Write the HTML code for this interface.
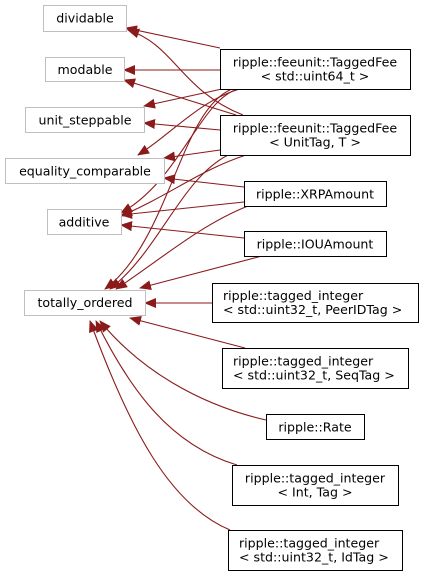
<!DOCTYPE html>
<html><head><style>
html,body{margin:0;padding:0;background:#fff;}
svg{display:block;font-family:"DejaVu Sans","Liberation Sans",sans-serif;font-size:12.6px;}
</style></head><body>
<svg width="424" height="577" viewBox="0 0 424 577" xmlns="http://www.w3.org/2000/svg">
<defs><marker id="a" markerWidth="12" markerHeight="10" refX="11" refY="5" orient="auto" markerUnits="userSpaceOnUse"><path d="M0,0 L12,5 L0,10 Z" fill="#8b1a1a"/></marker></defs>
<g fill="none" stroke="#8b1a1a" stroke-width="1.1" marker-end="url(#a)">
<path d="M220,48 L126,28"/>
<path d="M243,115 C180,90 175,45 128,30"/>
<path d="M220,70 L124,70"/>
<path d="M236,115 L124,80"/>
<path d="M222,89 L144,106"/>
<path d="M220,130 L144,123"/>
<path d="M240,89 C200,100 170,135 138,155"/>
<path d="M220,150 L164,158"/>
<path d="M244,187 L164,178"/>
<path d="M238,89 C200,100 180,180 121,213"/>
<path d="M246,155 C200,170 170,195 121,216"/>
<path d="M244,202 L121,215"/>
<path d="M244,238 L121,225"/>
<path d="M232,89 C180,110 170,240 105,289"/>
<path d="M228,155 C180,180 160,250 110,289"/>
<path d="M248,206 C200,225 160,260 116,289"/>
<path d="M262,256 L140,288"/>
<path d="M212,303 L145,303"/>
<path d="M245,348 L130,318"/>
<path d="M266,420 C200,405 140,370 100,321"/>
<path d="M237,465 C170,445 130,390 96,321"/>
<path d="M230,530 C170,505 130,430 90,321"/>
</g>
<g fill="#fff" stroke="#bfbfbf">
<rect x="43.5" y="5.5" width="83" height="26"/>
<rect x="45.5" y="57.5" width="79" height="24"/>
<rect x="25.5" y="107.5" width="119" height="25"/>
<rect x="5.5" y="158.5" width="159" height="25"/>
<rect x="47.5" y="209.5" width="74" height="25"/>
<rect x="24.5" y="290.5" width="121" height="25"/>
</g>
<g fill="#fff" stroke="#000">
<rect x="220.5" y="49.5" width="190" height="40"/>
<rect x="220.5" y="115.5" width="190" height="40"/>
<rect x="244.5" y="181.5" width="142" height="25"/>
<rect x="244.5" y="231.5" width="142" height="25"/>
<rect x="212.5" y="283.5" width="206" height="39"/>
<rect x="222.5" y="348.5" width="186" height="40"/>
<rect x="266.5" y="414.5" width="98" height="25"/>
<rect x="232.5" y="465.5" width="166" height="40"/>
<rect x="228.5" y="530.5" width="174" height="40"/>
</g>
<g fill="#000" text-anchor="middle">
<text x="85" y="22.5">dividable</text>
<text x="85" y="74">modable</text>
<text x="85" y="124.5">unit_steppable</text>
<text x="85" y="175.5">equality_comparable</text>
<text x="84" y="226.5">additive</text>
<text x="85" y="307">totally_ordered</text>
<text x="315" y="66.5">ripple::feeunit::TaggedFee</text>
<text x="315" y="80.5">&lt; std::uint64_t &gt;</text>
<text x="315" y="132.5">ripple::feeunit::TaggedFee</text>
<text x="315" y="146.5">&lt; UnitTag, T &gt;</text>
<text x="315" y="198.5">ripple::XRPAmount</text>
<text x="315" y="248.5">ripple::IOUAmount</text>
</g>
<g fill="#000">
<text x="223" y="300">ripple::tagged_integer</text>
<text x="223" y="314">&lt; std::uint32_t, PeerIDTag &gt;</text>
<text x="233" y="365.5">ripple::tagged_integer</text>
<text x="233" y="379.5">&lt; std::uint32_t, SeqTag &gt;</text>
<text x="239" y="547.5">ripple::tagged_integer</text>
<text x="239" y="561.5">&lt; std::uint32_t, IdTag &gt;</text>
</g>
<g fill="#000" text-anchor="middle">
<text x="315" y="431.5">ripple::Rate</text>
<text x="315" y="482.5">ripple::tagged_integer</text>
<text x="315" y="496.5">&lt; Int, Tag &gt;</text>
</g>
</svg>
</body></html>
